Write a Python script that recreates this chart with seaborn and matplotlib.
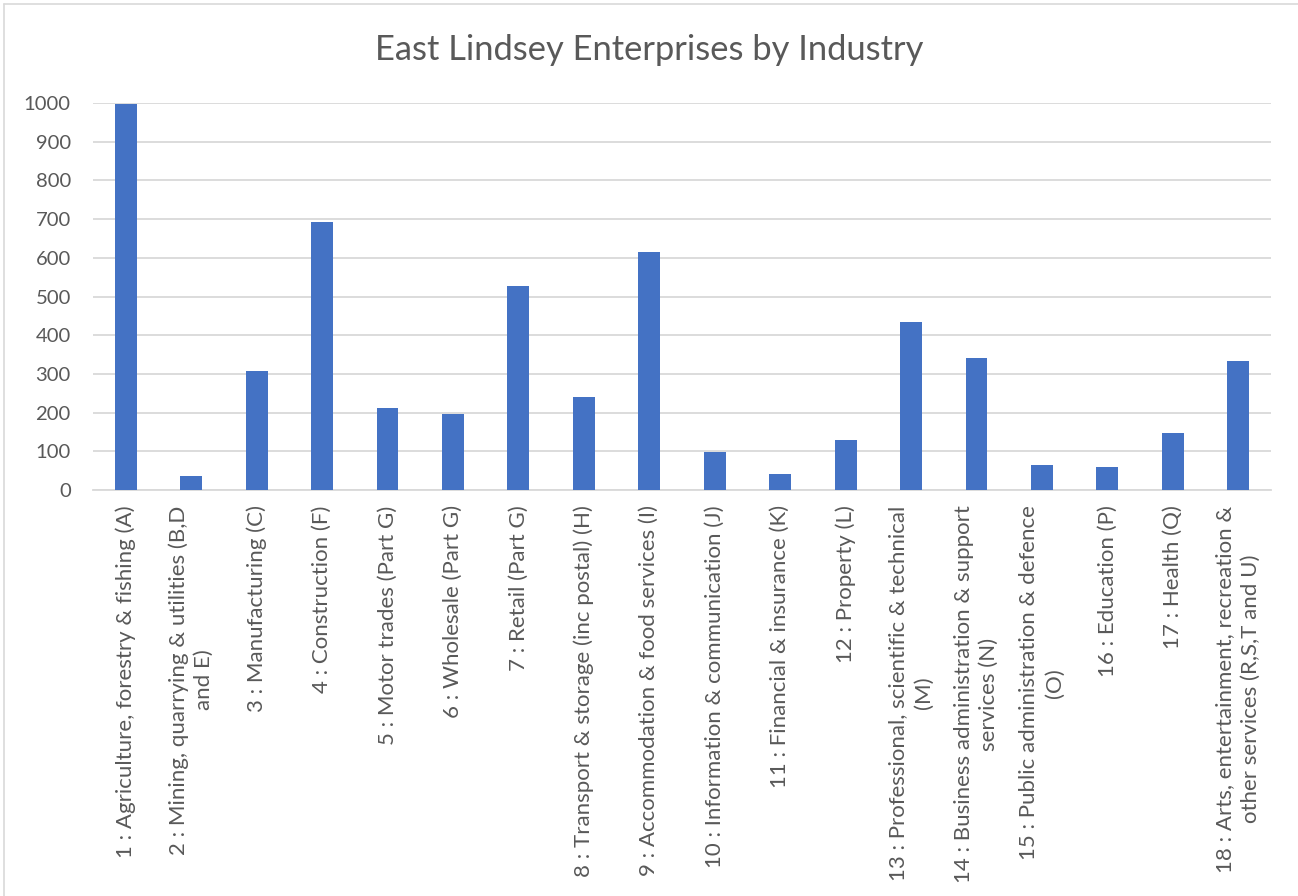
import matplotlib
matplotlib.use("Agg")
import matplotlib.pyplot as plt
from matplotlib.lines import Line2D
import seaborn as sns
import pandas as pd

# Enterprise counts by broad industry group
industries = [
    "1 : Agriculture, forestry & fishing (A)",
    "2 : Mining, quarrying & utilities (B,D\nand E)",
    "3 : Manufacturing (C)",
    "4 : Construction (F)",
    "5 : Motor trades (Part G)",
    "6 : Wholesale (Part G)",
    "7 : Retail (Part G)",
    "8 : Transport & storage (inc postal) (H)",
    "9 : Accommodation & food services (I)",
    "10 : Information & communication (J)",
    "11 : Financial & insurance (K)",
    "12 : Property (L)",
    "13 : Professional, scientific & technical\n(M)",
    "14 : Business administration & support\nservices (N)",
    "15 : Public administration & defence\n(O)",
    "16 : Education (P)",
    "17 : Health (Q)",
    "18 : Arts, entertainment, recreation &\nother services (R,S,T and U)",
]
enterprises = [997, 36, 307, 693, 213, 197, 528, 241, 616, 98, 42, 130, 434, 341, 64, 59, 147, 334]
y_ticks = [0, 100, 200, 300, 400, 500, 600, 700, 800, 900, 1000]

df = pd.DataFrame({"industry": industries, "count": enterprises})

sns.set_theme(style="white")
plt.rcParams["font.family"] = ["Lato", "DejaVu Sans"]

TEXT = "#595959"
GRID = "#d9d9d9"
BAR = "#4472c4"

fig = plt.figure(figsize=(12.98, 8.96), dpi=100)
ax = fig.add_axes([93 / 1298, 1 - 490 / 896, (1271 - 93) / 1298, (490 - 103) / 896])

sns.barplot(data=df, x="industry", y="count", color=BAR, width=0.335,
            saturation=1, edgecolor="none", ax=ax, zorder=3)

ax.set_ylim(0, 1000)
ax.set_yticks(y_ticks)
ax.set_yticklabels([str(v) for v in y_ticks])
ax.yaxis.grid(True, color=GRID, linewidth=1.3, zorder=0)
ax.set_axisbelow(True)
for side in ["top", "right", "left"]:
    ax.spines[side].set_visible(False)
ax.spines["bottom"].set_color(GRID)
ax.spines["bottom"].set_linewidth(1.3)

ax.set_xlabel("")
ax.set_ylabel("")
ax.tick_params(axis="y", length=0, pad=16, labelsize=14.6, labelcolor=TEXT)
ax.tick_params(axis="x", length=0, pad=11, labelsize=16, labelcolor=TEXT)
for lab in ax.get_xticklabels():
    lab.set_rotation(90)
    lab.set_ha("center")
    lab.set_va("top")
    lab.set_multialignment("center")
    lab.set_linespacing(1.35)

fig.suptitle("East Lindsey Enterprises by Industry", x=0.5, y=1 - 50 / 896,
             va="center", fontsize=24.8, color=TEXT)

# chart-area frame along the left and top edges
fig.add_artist(Line2D([4 / 1298, 4 / 1298], [0, 1 - 4 / 896], transform=fig.transFigure,
                      color=GRID, linewidth=1.2))
fig.add_artist(Line2D([4 / 1298, 1], [1 - 4 / 896, 1 - 4 / 896], transform=fig.transFigure,
                      color=GRID, linewidth=1.2))

fig.savefig("out.png", dpi=100, facecolor="white")
